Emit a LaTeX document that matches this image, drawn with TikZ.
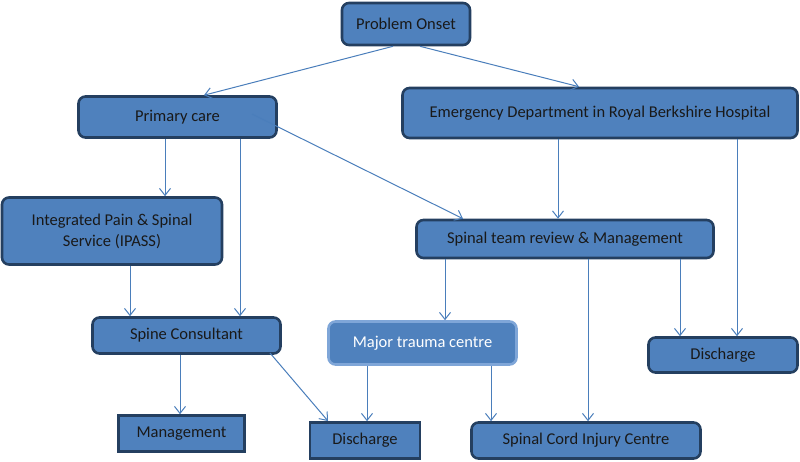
\documentclass[tikz,border=0pt]{standalone}
\usepackage{fontspec}
\setmainfont{Carlito}
\usetikzlibrary{arrows.meta}
\definecolor{boxfill}{HTML}{4F81BD}
\definecolor{boxdraw}{HTML}{243F60}
\definecolor{lightdraw}{HTML}{7FA6D8}
\definecolor{arrowc}{HTML}{4A7EBB}
\begin{document}
\begin{tikzpicture}[x=1pt,y=-1pt,
  box/.style={draw=boxdraw, fill=boxfill, line width=2.6pt, rounded corners=7pt,
    inner sep=0pt, align=center, font=\fontsize{16.5}{21}\selectfont, text=black!90},
  sqbox/.style={box, rounded corners=0pt},
  lightbox/.style={box, draw=lightdraw, text=white},
  arr/.style={draw=arrowc, line width=1pt, -{Straight Barb[length=7pt,width=11pt]}}]
\useasboundingbox (0,0) rectangle (800,461);
% nodes: centre and size from pixel boxes
\node[box, minimum width=128pt, minimum height=42pt] (onset) at (406,24) {Problem Onset};
\node[box, minimum width=198pt, minimum height=41pt] (pc) at (177.5,117) {Primary care};
\node[box, minimum width=395pt, minimum height=50pt] (ed) at (600,113) {Emergency Department in Royal Berkshire Hospital};
\node[box, minimum width=220pt, minimum height=67pt] (ipass) at (112,231) {Integrated Pain \& Spinal\\Service (IPASS)};
\node[box, minimum width=297pt, minimum height=38pt] (stm) at (565,239) {Spinal team review \& Management};
\node[box, minimum width=188pt, minimum height=36pt] (sc) at (186.5,335.5) {Spine Consultant};
\node[lightbox, minimum width=188pt, minimum height=43pt] (mtc) at (422.5,343) {Major trauma centre};
\node[box, minimum width=149pt, minimum height=35pt] (dr) at (723,355) {Discharge};
\node[sqbox, minimum width=126pt, minimum height=36pt] (mgmt) at (181.5,433.5) {Management};
\node[sqbox, minimum width=110pt, minimum height=36pt] (dm) at (365,440.5) {Discharge};
\node[box, minimum width=229pt, minimum height=36pt] (scic) at (586,440.5) {Spinal Cord Injury Centre};
% connectors
\draw[arr] (onset.south -| 393,0) -- (pc.north -| 204,0);
\draw[arr] (onset.south -| 420,0) -- (ed.north -| 579,0);
\draw[arr] (pc.south -| 165,0) -- (ipass.north -| 165,0);
\draw[arr] (pc.south -| 240,0) -- (sc.north -| 240,0);
\coordinate (pcx) at (252,114);
\draw[arr] (pcx) -- (stm.north -| 463,0);
\draw[arr] (ipass.south -| 130,0) -- (sc.north -| 130,0);
\draw[arr] (ed.south -| 558,0) -- (stm.north -| 558,0);
\draw[arr] (ed.south -| 737,0) -- (dr.north -| 737,0);
\draw[arr] (stm.south -| 445,0) -- (mtc.north -| 445,0);
\draw[arr] (stm.south -| 588,0) -- (scic.north -| 588,0);
\draw[arr] (stm.south -| 680,0) -- (dr.north -| 680,0);
\draw[arr] (sc.south -| 180,0) -- (mgmt.north -| 180,0);
\coordinate (scx) at (270,353);
\draw[arr] (scx) -- (328,421);
\draw[arr] (mtc.south -| 367,0) -- (dm.north -| 367,0);
\draw[arr] (mtc.south -| 491,0) -- (scic.north -| 491,0);
\end{tikzpicture}
\end{document}
